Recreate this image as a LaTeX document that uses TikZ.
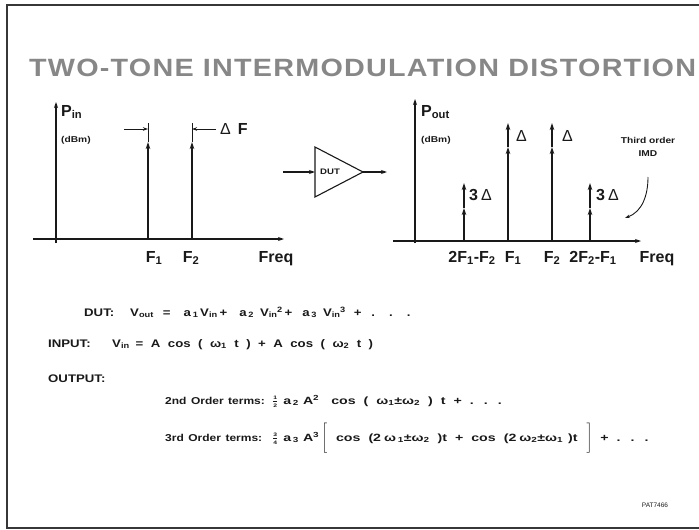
\documentclass[tikz,border=0pt]{standalone}
\usepackage{fontspec}
\setmainfont{Liberation Sans}
\newfontfamily\headfont[LetterSpace=4.9,FakeStretch=1.15]{Liberation Sans}
\newfontfamily\eqfont[FakeStretch=1.2]{Liberation Sans}
\newfontfamily\termfont[FakeStretch=1.35]{Liberation Sans}
\usepackage{xcolor}
\usetikzlibrary{arrows.meta,positioning,calc}
\definecolor{ink}{RGB}{25,25,25}
\definecolor{framegray}{RGB}{55,55,55}
\definecolor{headgray}{RGB}{135,135,135}
\newcommand{\sbs}[2]{\textsubscript{#2}\hspace{-0.5pt}\textsuperscript{#1}}
\newcommand{\smallfrac}[2]{$\frac{\mbox{\tiny #1}}{\mbox{\tiny #2}}$}
\newcommand{\dl}{{\mdseries Δ}}
\newcommand{\eqsize}{\eqfont\bfseries\fontsize{11}{13}\selectfont\spaceskip=7.5pt plus 1pt\relax}
\newcommand{\keysize}{\eqfont\bfseries\fontsize{10}{12}\selectfont\spaceskip=4.5pt plus 1pt\relax}
\newcommand{\termsize}{\termfont\bfseries\fontsize{10.5}{12}\selectfont\spaceskip=8pt plus 1pt\relax}
\tikzset{
  slideframe/.style={line width=2.4pt,color=framegray},
  headline/.style={font=\headfont\bfseries\fontsize{25}{28}\selectfont,text=headgray,inner sep=0pt},
  faxis/.style={line width=1.1pt,color=ink,-{Stealth[length=6pt,width=4pt]}},
  tone/.style={line width=1.4pt,color=ink,-{Stealth[length=7pt,width=4.5pt]}},
  dfline/.style={line width=0.9pt,color=ink},
  dfarr/.style={line width=0.9pt,color=ink,-{Stealth[length=5pt,width=3.5pt]}},
  amp/.style={line width=1.1pt,color=ink},
  sig/.style={line width=1.1pt,color=ink,-{Stealth[length=6pt,width=4pt]}},
  lbl/.style={font=\bfseries\fontsize{16}{18}\selectfont,text=ink,inner sep=0pt},
  dbm/.style={font=\eqfont\bfseries\fontsize{8.5}{9}\selectfont,text=ink,inner sep=0pt,anchor=west},
  eqn/.style={font=\eqsize,text=ink,inner sep=0pt,anchor=base west},
  termkey/.style={font=\keysize,text=ink,inner sep=0pt,anchor=base west},
  terms/.style={font=\termsize,text=ink,inner sep=0pt,anchor=base west},
  tag/.style={font=\fontsize{6.5}{8}\selectfont,text=ink,inner sep=0pt},
}

\begin{document}
\begin{tikzpicture}[x=1pt,y=-1pt]
  \useasboundingbox (0,0) rectangle (699,530);

  % slide frame
  \coordinate (frTR) at (699,5);
  \coordinate (frTL) at (7,5);
  \coordinate (frBL) at (7,528);
  \coordinate (frBR) at (699,528);
  \draw[slideframe] (frTR) -- (frTL) -- (frBL) -- (frBR);

  \node[headline,anchor=west] (head) at (29,68) {TWO-TONE INTERMODULATION DISTORTION};

  % input spectrum
  \coordinate (inYb) at (56,243);
  \coordinate (inYt) at (56,102);
  \coordinate (inXl) at (33,239);
  \coordinate (inXr) at (284,239);
  \draw[faxis] (inYb) -- (inYt);
  \draw[faxis] (inXl) -- (inXr);
  \node[lbl,anchor=west] (pin) at (61,112) {P\textsubscript{in}};
  \node[dbm] (pindb) at (61,140) {(dBm)};

  \coordinate (f1b) at (148,239);
  \coordinate (f1t) at (148,142);
  \coordinate (f1m) at (148,123);
  \coordinate (f2b) at (192,239);
  \coordinate (f2t) at (192,142);
  \coordinate (f2m) at (192,123);
  \draw[tone] (f1b) -- (f1t);
  \draw[tone] (f2b) -- (f2t);
  \draw[dfline] (f1t) -- (f1m);
  \draw[dfline] (f2t) -- (f2m);
  \coordinate (dfa) at (124,129);
  \coordinate (dfb) at (216,129);
  \draw[dfarr] (dfa) -- (f1m|-dfa);
  \draw[dfarr] (dfb) -- (f2m|-dfa);
  \node[lbl,anchor=west] (dflbl) at (220,129) {\dl\hspace{7pt}F};

  \node[lbl,anchor=base] (inf1) at (154,262) {F\textsubscript{1}};
  \node[lbl,anchor=base] (inf2) at (191,262) {F\textsubscript{2}};
  \node[lbl,anchor=base] (infreq) at (276,262) {Freq};

  % amplifier
  \coordinate (triL1) at (315,147);
  \coordinate (triL2) at (315,197);
  \coordinate (triA) at (363,172);
  \draw[amp] (triL1) -- (triA) -- (triL2) -- cycle;
  \node[dbm,font=\eqfont\bfseries\fontsize{8}{9}\selectfont] (dut) at (320,172) {DUT};
  \coordinate (ampin) at (283,172);
  \coordinate (ampout) at (387,172);
  \draw[sig] (ampin) -- (triL1|-triA);
  \draw[sig] (triA) -- (ampout);

  % output spectrum
  \coordinate (outYb) at (415,243);
  \coordinate (outYt) at (415,99);
  \coordinate (outXl) at (393,241);
  \coordinate (outXr) at (641,241);
  \draw[faxis] (outYb) -- (outYt);
  \draw[faxis] (outXl) -- (outXr);
  \node[lbl,anchor=west] (pout) at (421,112) {P\textsubscript{out}};
  \node[dbm] (poutdb) at (421,140) {(dBm)};

  \coordinate (i1b) at (464,241);
  \coordinate (i1m) at (464,208);
  \coordinate (i1t) at (464,183);
  \coordinate (o1b) at (508,241);
  \coordinate (o1m) at (508,147);
  \coordinate (o1t) at (508,123);
  \coordinate (o2b) at (552,241);
  \coordinate (o2m) at (552,147);
  \coordinate (o2t) at (552,123);
  \coordinate (i2b) at (590,241);
  \coordinate (i2m) at (590,208);
  \coordinate (i2t) at (590,183);
  \draw[tone] (i1b) -- (i1m);
  \draw[tone] (i1m) -- (i1t);
  \draw[tone] (o1b) -- (o1m);
  \draw[tone] (o1m) -- (o1t);
  \draw[tone] (o2b) -- (o2m);
  \draw[tone] (o2m) -- (o2t);
  \draw[tone] (i2b) -- (i2m);
  \draw[tone] (i2m) -- (i2t);

  \node[lbl,anchor=west] (d3a) at (469,195) {3\hspace{3pt}\dl};
  \node[lbl,anchor=west] (d1a) at (516,136) {\dl};
  \node[lbl,anchor=west] (d1b) at (562,136) {\dl};
  \node[lbl,anchor=west] (d3b) at (596,195) {3\hspace{3pt}\dl};

  \node[dbm,anchor=center,align=center,font=\eqfont\bfseries\fontsize{8.5}{13}\selectfont] (imd) at (648,147) {Third order\\IMD};
  \coordinate (imdt) at (648,177);
  \coordinate (imdh) at (625,218);
  \draw[dfarr] (imdt) to[out=-90,in=20] (imdh);

  \node[lbl,anchor=base] (of3a) at (472,262) {2F\textsubscript{1}-F\textsubscript{2}};
  \node[lbl,anchor=base] (of1) at (513,262) {F\textsubscript{1}};
  \node[lbl,anchor=base] (of2) at (552,262) {F\textsubscript{2}};
  \node[lbl,anchor=base] (of3b) at (593,262) {2F\textsubscript{2}-F\textsubscript{1}};
  \node[lbl,anchor=base] (ofreq) at (657,262) {Freq};

  % equations
  \node[eqn] (dutkey) at (84,316) {DUT:};
  \node[eqn] (duteq) at (130,316) {V\textsubscript{out}\hspace{9pt}=\hspace{13pt}a\,\textsubscript{1}\,V\textsubscript{in}\,+\hspace{12pt}a\,\textsubscript{2}\hspace{6pt}V\sbs{2}{in}\,+\hspace{10pt}a\,\textsubscript{3}\hspace{6pt}V\sbs{3}{in}\hspace{8pt}+\hspace{10pt}.\hspace{14pt}.\hspace{14pt}.};
  \node[eqn] (inkey) at (48,347) {INPUT:};
  \node[eqn] (ineq) at (112,347) {V\textsubscript{in}\hspace{6pt}= A cos ( ω\textsubscript{1} t ) + A cos ( ω\textsubscript{2} t )};
  \node[eqn] (outkey) at (48,382) {OUTPUT:};
  \node[termkey] (ord2) at (165,404) {2nd Order terms:};
  \node[terms] (ord2eq) at (272,404) {\smallfrac{1}{2}\hspace{5pt}a\,\textsubscript{2}\hspace{4pt}A\textsuperscript{2}\hspace{12pt}cos ( ω\textsubscript{1}±ω\textsubscript{2} ) t + .\hspace{10pt}.\hspace{10pt}.};
  \node[termkey] (ord3) at (165,441) {3rd Order terms:};
  \node[terms] (ord3eq) at (272,441) {\smallfrac{3}{4}\hspace{5pt}a\,\textsubscript{3}\hspace{4pt}A\textsuperscript{3}\hspace{2pt}$\Bigg[$\hspace{9pt}cos (2\hspace{3pt}ω\,\textsubscript{1}±ω\textsubscript{2}\hspace{8pt})t + cos (2\hspace{3pt}ω\textsubscript{2}±ω\textsubscript{1}\hspace{5pt})t\hspace{9pt}$\Bigg]$ + .\hspace{10pt}.\hspace{10pt}.};
  \node[tag] (patno) at (655,505) {PAT7466};
\end{tikzpicture}
\end{document}
